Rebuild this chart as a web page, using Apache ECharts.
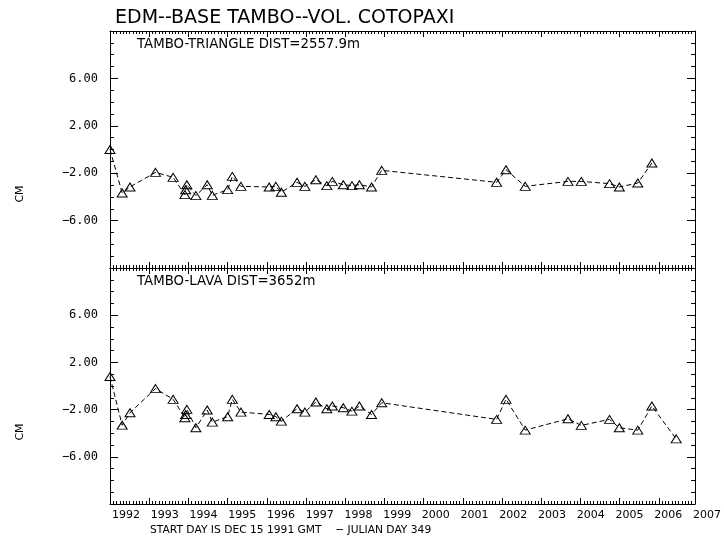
<!DOCTYPE html>
<html>
<head>
<meta charset="utf-8">
<script src="https://cdn.jsdelivr.net/npm/echarts@6/dist/echarts.min.js"></script>
<style>
  html, body { margin: 0; padding: 0; background: #fff; }
  #chart { width: 724px; height: 540px; }
</style>
</head>
<body>
<div id="chart"></div>
<script>
// Observation epochs, in years since the start day (Dec 15 1991)
const yearsSinceStart = [
  0.00, 0.31, 0.51, 1.16, 1.61, 1.91, 1.93, 1.96, 2.19, 2.48,
  2.61, 3.00, 3.12, 3.34, 4.06, 4.23, 4.37, 4.77, 4.97, 5.25,
  5.53, 5.67, 5.95, 6.17, 6.36, 6.67, 6.93, 9.86, 10.10, 10.59,
  11.68, 12.02, 12.74, 12.99, 13.46, 13.82, 14.44
];

// EDM line-length changes (cm), Tambo -> Triangle reflector
const triangleCm = [
  0.00, -3.67, -3.16, -1.93, -2.35, -3.81, -3.40, -2.97, -3.89, -2.97,
  -3.87, -3.39, -2.27, -3.11, -3.16, -3.11, -3.61, -2.77, -3.11, -2.55,
  -3.05, -2.69, -2.97, -3.05, -2.97, -3.16, -1.76, -2.77, -1.71, -3.11,
  -2.69, -2.69, -2.88, -3.16, -2.83, -1.14, null
];

// EDM line-length changes (cm), Tambo -> Lava reflector
const lavaCm = [
  0.80, -3.32, -2.27, -0.22, -1.13, -2.69, -2.41, -1.98, -3.54, -2.04,
  -3.06, -2.60, -1.13, -2.21, -2.41, -2.60, -2.98, -1.93, -2.21, -1.36,
  -1.93, -1.70, -1.84, -2.13, -1.70, -2.41, -1.42, -2.83, -1.13, -3.74,
  -2.78, -3.34, -2.83, -3.54, -3.74, -1.70, -4.48
];

const yearLabels = ['1992', '1993', '1994', '1995', '1996', '1997', '1998', '1999',
  '2000', '2001', '2002', '2003', '2004', '2005', '2006', '2007'];
const cmTickValues = [-6, -2, 2, 6];
const cmTickLabels = ['\u22126.00', '\u22122.00', '2.00', '6.00'];
const cmMajorTicks = [-10, -6, -2, 2, 6, 10];

const FONT = 'DejaVu Sans';
const INK = '#000';
const X_MAX = 14.92;           // axis span in years
const PLOT_LEFT = 110, PLOT_WIDTH = 585;

function pairs(xs, ys) {
  return xs.map((x, i) => [x, ys[i]]);
}

function timeAxis(grid, position) {
  return {
    gridIndex: grid, type: 'value', position: position,
    min: 0, max: X_MAX, interval: 1,
    axisLine: { show: true, onZero: false, lineStyle: { color: INK, width: 1 } },
    axisTick: { show: true, inside: true, length: 6, lineStyle: { color: INK, width: 1 } },
    minorTick: { show: true, splitNumber: 12, length: 3, lineStyle: { color: INK, width: 1 } },
    axisLabel: { show: false },
    splitLine: { show: false }
  };
}

function cmMajorAxis(grid, position, withLabels) {
  return {
    gridIndex: grid, type: 'value', position: position,
    min: -10, max: 10,
    axisLine: { show: true, onZero: false, lineStyle: { color: INK, width: 1 } },
    axisTick: { show: true, inside: true, length: 8, customValues: cmMajorTicks,
      lineStyle: { color: INK, width: 1 } },
    axisLabel: withLabels ? {
      show: true, customValues: cmTickValues, margin: 12,
      fontFamily: 'DejaVu Sans Mono', fontSize: 12, color: INK,
      formatter: v => cmTickLabels[cmTickValues.indexOf(v)] || ''
    } : { show: false },
    splitLine: { show: false }
  };
}

function cmMinorAxis(grid, position) {
  return {
    gridIndex: grid, type: 'value', position: position,
    min: -10, max: 10, interval: 1,
    axisLine: { show: false, onZero: false },
    axisTick: { show: true, inside: true, length: 4, lineStyle: { color: INK, width: 1 } },
    axisLabel: { show: false },
    splitLine: { show: false }
  };
}

function lineSeries(name, xIdx, yIdx, values) {
  return {
    name: name, type: 'line',
    xAxisIndex: xIdx, yAxisIndex: yIdx,
    data: pairs(yearsSinceStart, values),
    symbol: 'triangle', symbolSize: [10, 8], showAllSymbol: true,
    connectNulls: false,
    lineStyle: { color: INK, width: 1, type: [5, 3] },
    itemStyle: { color: 'rgba(0,0,0,0)', borderColor: INK, borderWidth: 1 },
    emphasis: { disabled: true }
  };
}

const chart = echarts.init(document.getElementById('chart'), null, { renderer: 'canvas' });

chart.setOption({
  animation: false,
  backgroundColor: '#fff',
  title: [
    { text: 'EDM--BASE TAMBO--VOL. COTOPAXI', left: 115, top: 9, padding: 0,
      textStyle: { fontFamily: FONT, fontSize: 19, fontWeight: 'normal', color: INK } },
    { text: 'TAMBO-TRIANGLE DIST=2557.9m', left: 137, top: 38, padding: 0,
      textStyle: { fontFamily: FONT, fontSize: 13.3, fontWeight: 'normal', color: INK } },
    { text: 'TAMBO-LAVA DIST=3652m', left: 137, top: 275, padding: 0,
      textStyle: { fontFamily: FONT, fontSize: 13.3, fontWeight: 'normal', color: INK } },
    { text: 'START DAY IS DEC 15 1991 GMT    \u2212 JULIAN DAY 349', left: 150, top: 525, padding: 0,
      textStyle: { fontFamily: FONT, fontSize: 10.7, fontWeight: 'normal', color: INK } }
  ],
  graphic: [
    { type: 'text', x: 20, y: 194, rotation: Math.PI / 2,
      style: { text: 'CM', fill: INK, font: '11px "DejaVu Sans"', align: 'center', verticalAlign: 'middle' } },
    { type: 'text', x: 20, y: 432, rotation: Math.PI / 2,
      style: { text: 'CM', fill: INK, font: '11px "DejaVu Sans"', align: 'center', verticalAlign: 'middle' } }
  ],
  grid: [
    { left: PLOT_LEFT, top: 31, width: PLOT_WIDTH, height: 237 },
    { left: PLOT_LEFT, top: 268, width: PLOT_WIDTH, height: 236 },
    // year-label strip, one full year wider so the last label reaches past the frame
    { left: PLOT_LEFT, top: 268, width: PLOT_WIDTH * 15 / X_MAX, height: 236 }
  ],
  xAxis: [
    timeAxis(0, 'bottom'), timeAxis(0, 'top'),
    timeAxis(1, 'bottom'), timeAxis(1, 'top'),
    {
      gridIndex: 2, type: 'value', position: 'bottom', min: 0, max: 15, interval: 1,
      axisLine: { show: false, onZero: false }, axisTick: { show: false },
      axisLabel: { show: true, align: 'left', margin: 6, padding: [0, 0, 0, 2],
        showMinLabel: true, showMaxLabel: true,
        fontFamily: FONT, fontSize: 11, color: INK,
        formatter: v => yearLabels[Math.round(v)] || '' },
      splitLine: { show: false }
    }
  ],
  yAxis: [
    cmMajorAxis(0, 'left', true), cmMinorAxis(0, 'left'),
    cmMajorAxis(0, 'right', false), cmMinorAxis(0, 'right'),
    cmMajorAxis(1, 'left', true), cmMinorAxis(1, 'left'),
    cmMajorAxis(1, 'right', false), cmMinorAxis(1, 'right'),
    { gridIndex: 2, type: 'value', show: false, min: -10, max: 10 }
  ],
  series: [
    lineSeries('TAMBO-TRIANGLE', 0, 0, triangleCm),
    lineSeries('TAMBO-LAVA', 2, 4, lavaCm)
  ]
});
</script>
</body>
</html>
